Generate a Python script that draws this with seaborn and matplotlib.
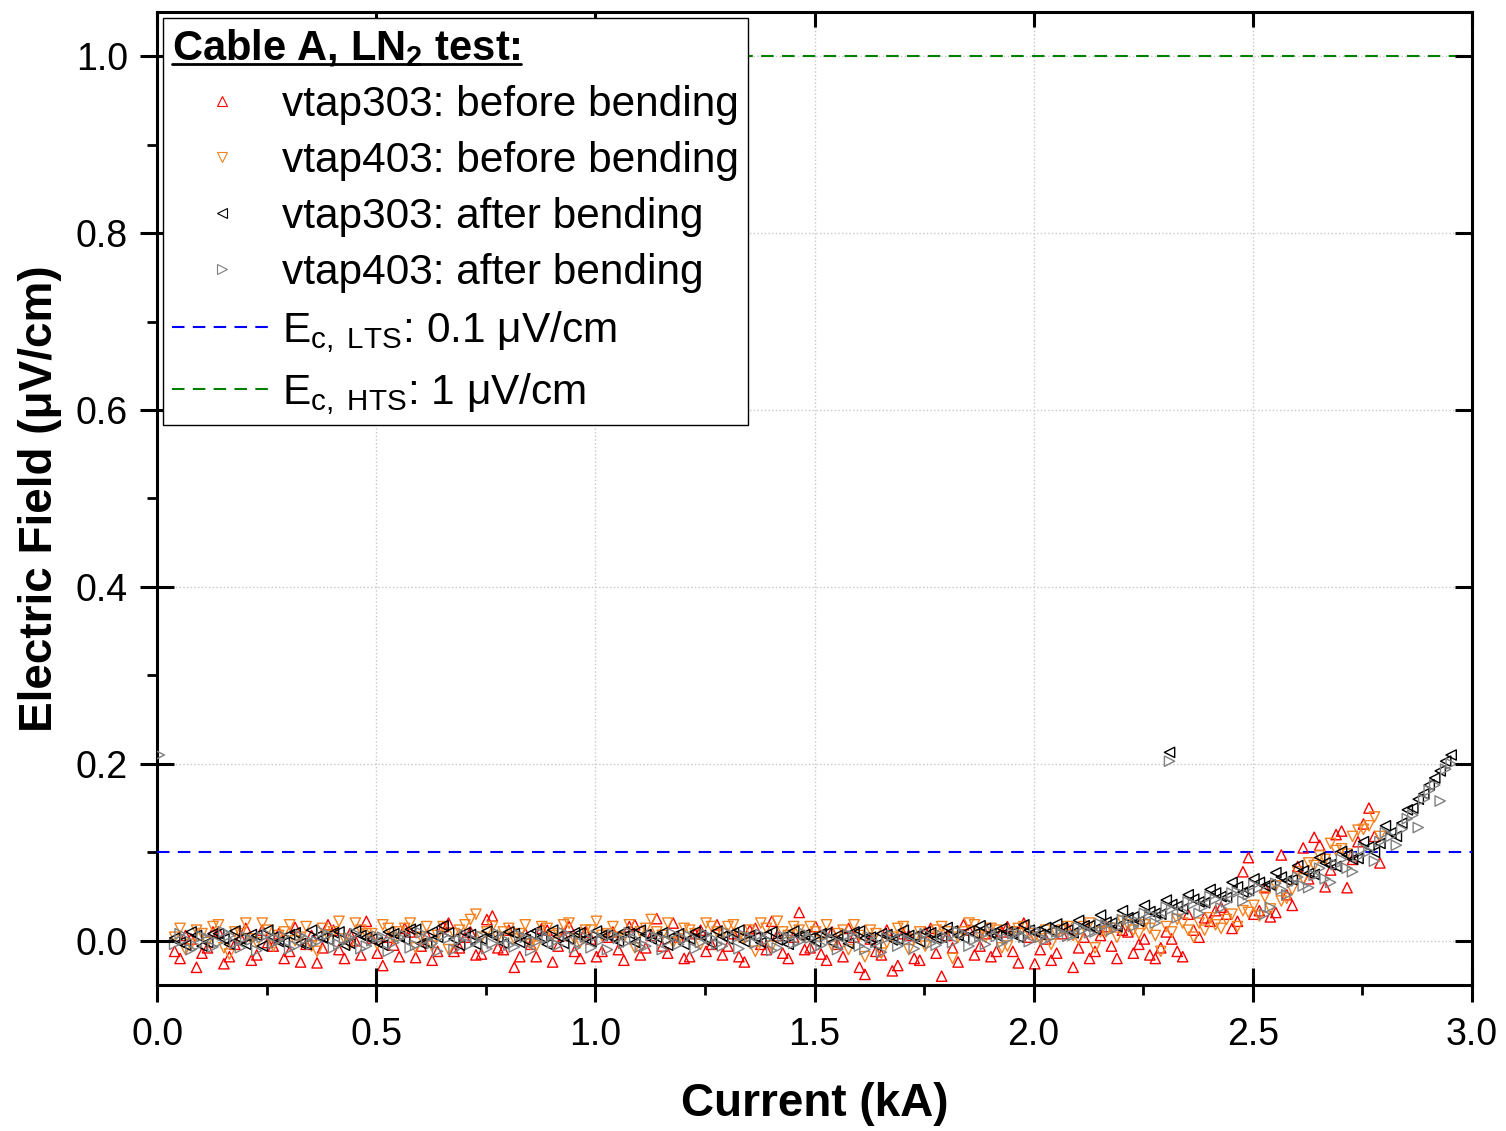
import matplotlib
matplotlib.use("Agg")
import matplotlib.pyplot as plt
import seaborn as sns
from matplotlib.lines import Line2D
from matplotlib.ticker import MultipleLocator, NullLocator, FormatStrFormatter

sns.set_theme(style="white")
plt.rcParams["font.family"] = ["Liberation Sans", "DejaVu Sans"]
plt.rcParams["mathtext.fontset"] = "custom"
plt.rcParams["mathtext.rm"] = "Liberation Sans"
plt.rcParams["mathtext.it"] = "Liberation Sans:italic"
plt.rcParams["mathtext.bf"] = "Liberation Sans:bold"
for k in ["text.color", "axes.labelcolor", "xtick.color", "ytick.color", "axes.edgecolor"]:
    plt.rcParams[k] = "black"

# %% data
# current (kA): two interleaved sampling grids
current = [
    0.040, 0.065, 0.090, 0.115, 0.140, 0.165, 0.190, 0.215, 0.240, 0.265,
    0.290, 0.315, 0.340, 0.365, 0.390, 0.415, 0.440, 0.465, 0.490, 0.515,
    0.540, 0.565, 0.590, 0.615, 0.640, 0.665, 0.690, 0.715, 0.740, 0.765,
    0.790, 0.815, 0.840, 0.865, 0.890, 0.915, 0.940, 0.965, 0.990, 1.015,
    1.040, 1.065, 1.090, 1.115, 1.140, 1.165, 1.190, 1.215, 1.240, 1.265,
    1.290, 1.315, 1.340, 1.365, 1.390, 1.415, 1.440, 1.465, 1.490, 1.515,
    1.540, 1.565, 1.590, 1.615, 1.640, 1.665, 1.690, 1.715, 1.740, 1.765,
    1.790, 1.815, 1.840, 1.865, 1.890, 1.915, 1.940, 1.965, 1.990, 2.015,
    2.040, 2.065, 2.090, 2.115, 2.140, 2.165, 2.190, 2.215, 2.240, 2.265,
    2.290, 2.315, 2.340, 2.365, 2.390, 2.415, 2.440, 2.465, 2.490, 2.515,
    2.540, 2.565, 2.590, 2.615, 2.640, 2.665, 2.690, 2.715, 2.740, 2.765,
    2.790, 2.815, 2.840, 2.865, 2.890, 2.915, 2.940,
]
current_mid = [
    0.0525, 0.0775, 0.1025, 0.1275, 0.1525, 0.1775, 0.2025, 0.2275, 0.2525, 0.2775,
    0.3025, 0.3275, 0.3525, 0.3775, 0.4025, 0.4275, 0.4525, 0.4775, 0.5025, 0.5275,
    0.5525, 0.5775, 0.6025, 0.6275, 0.6525, 0.6775, 0.7025, 0.7275, 0.7525, 0.7775,
    0.8025, 0.8275, 0.8525, 0.8775, 0.9025, 0.9275, 0.9525, 0.9775, 1.0025, 1.0275,
    1.0525, 1.0775, 1.1025, 1.1275, 1.1525, 1.1775, 1.2025, 1.2275, 1.2525, 1.2775,
    1.3025, 1.3275, 1.3525, 1.3775, 1.4025, 1.4275, 1.4525, 1.4775, 1.5025, 1.5275,
    1.5525, 1.5775, 1.6025, 1.6275, 1.6525, 1.6775, 1.7025, 1.7275, 1.7525, 1.7775,
    1.8025, 1.8275, 1.8525, 1.8775, 1.9025, 1.9275, 1.9525, 1.9775, 2.0025, 2.0275,
    2.0525, 2.0775, 2.1025, 2.1275, 2.1525, 2.1775, 2.2025, 2.2275, 2.2525, 2.2775,
    2.3025, 2.3275, 2.3525, 2.3775, 2.4025, 2.4275, 2.4525, 2.4775, 2.5025, 2.5275,
    2.5525, 2.5775, 2.6025, 2.6275, 2.6525, 2.6775, 2.7025, 2.7275, 2.7525, 2.7775,
    2.8025, 2.8275, 2.8525, 2.8775, 2.9025, 2.9275, 2.9525,
]

# electric field (uV/cm) on the first grid
vtap303_before = [
    -0.012, 0.006, -0.030, -0.008, 0.010, -0.018, 0.004, -0.022, 0.012, -0.006,
    -0.020, 0.015, -0.004, -0.025, 0.018, -0.010, 0.008, -0.016, 0.003, -0.028,
    -0.005, 0.014, -0.019, 0.006, -0.012, 0.020, -0.008, 0.010, -0.015, 0.028,
    -0.010, -0.030, 0.008, -0.018, 0.012, -0.006, 0.016, -0.020, 0.002, -0.012,
    0.010, -0.022, 0.018, -0.008, 0.025, -0.014, 0.004, -0.018, 0.012, -0.004,
    -0.016, 0.008, -0.024, 0.014, -0.010, 0.006, -0.020, 0.032, -0.008, -0.015,
    0.010, -0.018, 0.004, -0.038, -0.012, 0.012, -0.028, 0.006, -0.022, 0.014,
    -0.040, -0.008, 0.018, -0.016, 0.008, -0.012, 0.016, -0.025, 0.004, -0.010,
    -0.022, 0.008, -0.030, 0.004, -0.012, 0.016, -0.020, 0.010, -0.004, -0.016,
    -0.008, 0.002, -0.018, 0.012, 0.026, 0.034, 0.030, 0.022, 0.094, 0.034,
    0.027, 0.097, 0.040, 0.105, 0.117, 0.061, 0.120, 0.060, 0.112, 0.150,
    0.088,
]
vtap403_before = [
    0.004, -0.010, 0.012, -0.002, 0.018, -0.015, 0.008, 0.002, 0.020, -0.006,
    0.010, 0.000, 0.016, -0.012, 0.006, 0.022, -0.004, 0.012, 0.008, 0.018,
    0.002, 0.014, -0.008, 0.016, 0.006, -0.010, 0.012, 0.024, 0.004, 0.016,
    0.010, 0.002, 0.018, -0.006, 0.014, 0.008, 0.020, -0.002, 0.012, 0.006,
    0.016, 0.004, -0.008, 0.014, 0.010, 0.020, 0.002, 0.012, -0.004, 0.016,
    0.008, 0.018, 0.002, -0.012, 0.014, 0.022, 0.006, 0.012, 0.016, 0.004,
    -0.006, 0.012, 0.018, -0.018, 0.008, -0.002, 0.014, -0.010, 0.010, 0.004,
    0.016, -0.020, 0.010, 0.018, 0.004, 0.012, -0.006, 0.014, 0.008, 0.002,
    -0.004, 0.012, 0.006, 0.016, -0.008, 0.010, 0.004, 0.018, 0.008, 0.014,
    -0.012, 0.010, 0.020, 0.004, 0.012, 0.018, 0.024, 0.016, 0.032, 0.028,
    0.036, 0.045, 0.058, 0.070, 0.085, 0.092, 0.102, 0.098, 0.125, 0.130,
    0.118,
]
vtap303_after = [
    0.003, -0.005, 0.006, -0.002, 0.008, -0.004, 0.002, 0.007, -0.006, 0.004,
    -0.002, 0.009, -0.004, 0.005, 0.001, 0.010, -0.003, 0.006, 0.002, -0.005,
    0.008, 0.001, 0.013, -0.002, 0.004, 0.009, -0.005, 0.007, 0.002, 0.006,
    -0.003, 0.008, 0.001, 0.011, -0.004, 0.005, 0.002, 0.009, -0.001, 0.006,
    0.003, 0.010, -0.002, 0.007, 0.004, -0.005, 0.008, 0.002, 0.006, -0.003,
    0.005, 0.009, -0.001, 0.004, 0.007, 0.001, -0.004, 0.006, 0.003, 0.008,
    -0.002, 0.005, 0.010, 0.003, -0.005, 0.007, 0.002, 0.006, -0.001, 0.009,
    0.004, 0.011, 0.003, 0.008, 0.014, 0.006, 0.010, 0.004, 0.012, 0.007,
    0.011, 0.015, 0.009, 0.017, 0.013, 0.021, 0.016, 0.026, 0.022, 0.033,
    0.030, 0.041, 0.036, 0.047, 0.043, 0.054, 0.049, 0.061, 0.057, 0.066,
    0.063, 0.072, 0.069, 0.079, 0.075, 0.088, 0.084, 0.097, 0.093, 0.106,
    0.110, 0.122, 0.133, 0.150, 0.166, 0.184, 0.203,
]
vtap403_after = [
    -0.004, 0.002, -0.006, 0.003, -0.002, 0.006, -0.008, 0.001, 0.004, -0.003,
    0.005, -0.006, 0.002, -0.001, 0.007, -0.004, 0.003, -0.009, 0.000, 0.004,
    -0.002, 0.006, -0.005, 0.002, -0.012, 0.003, 0.001, -0.004, 0.005, -0.003,
    0.002, -0.007, 0.004, -0.001, 0.003, -0.005, 0.006, -0.002, -0.008, 0.001,
    0.007, -0.003, 0.002, -0.006, 0.004, 0.000, -0.004, 0.005, -0.002, 0.003,
    -0.006, 0.002, 0.006, -0.003, 0.001, -0.008, 0.004, -0.001, 0.003, -0.005,
    0.002, -0.004, 0.005, -0.010, -0.002, 0.003, -0.006, 0.001, 0.004, -0.003,
    0.006, -0.002, 0.008, 0.001, -0.004, 0.005, 0.002, 0.009, -0.001, 0.004,
    0.004, 0.009, 0.006, 0.013, 0.010, 0.018, 0.015, 0.024, 0.021, 0.030,
    0.027, 0.036, 0.033, 0.042, 0.039, 0.047, 0.044, 0.055, 0.052, 0.060,
    0.038, 0.058, 0.066, 0.062, 0.074, 0.070, 0.086, 0.082, 0.095, 0.101,
    0.112, 0.118, 0.126, 0.142, 0.160, 0.176, 0.194,
]

# electric field (uV/cm) on the second grid
vtap303_before_mid = [
    -0.020, 0.002, -0.014, 0.010, -0.026, -0.004, 0.014, -0.016, -0.002, 0.008,
    -0.012, -0.024, 0.006, -0.008, 0.012, -0.020, 0.000, 0.022, -0.014, 0.004,
    -0.018, 0.010, -0.006, -0.022, 0.016, -0.012, 0.004, -0.016, 0.024, -0.008,
    0.012, -0.018, -0.004, 0.014, -0.024, 0.006, -0.012, 0.010, -0.018, 0.004,
    -0.010, 0.016, -0.016, 0.006, -0.006, 0.020, -0.020, 0.008, -0.012, 0.018,
    -0.006, -0.018, 0.012, -0.004, 0.022, -0.014, 0.004, -0.010, 0.016, -0.022,
    -0.004, 0.014, -0.030, 0.002, -0.016, -0.034, 0.008, -0.020, 0.010, -0.014,
    0.006, -0.024, 0.012, -0.006, -0.018, 0.010, -0.012, 0.020, -0.026, 0.002,
    -0.014, 0.014, -0.008, -0.020, 0.006, -0.006, 0.012, -0.014, 0.002, -0.020,
    0.010, -0.012, 0.030, 0.004, 0.022, 0.038, 0.014, 0.078, 0.030, 0.060,
    0.032, 0.052, 0.084, 0.070, 0.108, 0.080, 0.124, 0.092, 0.132, 0.118,
]
vtap403_before_mid = [
    0.014, -0.004, 0.008, 0.016, -0.008, 0.010, 0.020, -0.002, 0.012, 0.006,
    0.018, 0.004, -0.006, 0.014, 0.010, 0.002, 0.020, 0.008, -0.004, 0.014,
    0.010, 0.020, 0.004, -0.006, 0.016, 0.008, 0.018, 0.030, 0.010, 0.004,
    0.014, 0.008, -0.004, 0.016, 0.006, 0.018, 0.002, 0.012, 0.022, 0.008,
    0.004, 0.018, 0.010, 0.024, 0.006, -0.002, 0.014, 0.008, 0.020, 0.010,
    0.016, 0.004, 0.012, 0.020, -0.006, 0.010, 0.016, 0.004, 0.010, 0.018,
    0.008, -0.010, 0.006, 0.012, -0.014, 0.004, 0.016, 0.002, -0.006, 0.012,
    0.010, 0.004, 0.020, 0.006, 0.014, -0.008, 0.010, 0.016, 0.004, 0.012,
    0.008, 0.016, 0.002, 0.020, 0.010, 0.014, 0.022, 0.012, 0.018, 0.006,
    0.016, 0.024, 0.012, 0.020, 0.026, 0.014, 0.030, 0.034, 0.040, 0.050,
    0.062, 0.048, 0.078, 0.088, 0.096, 0.110, 0.104, 0.118, 0.126, 0.140,
]
vtap303_after_mid = [
    -0.002, 0.010, -0.006, 0.008, 0.002, 0.011, -0.004, 0.006, 0.012, -0.001,
    0.007, -0.003, 0.012, 0.003, 0.009, -0.005, 0.011, 0.004, -0.002, 0.010,
    0.005, 0.013, -0.003, 0.010, 0.017, 0.002, 0.009, -0.004, 0.011, 0.003,
    0.010, -0.002, 0.008, 0.004, 0.012, -0.003, 0.009, 0.002, 0.011, 0.006,
    -0.001, 0.008, 0.012, 0.002, 0.009, 0.005, -0.004, 0.010, 0.003, 0.011,
    0.002, 0.012, 0.006, -0.002, 0.010, 0.004, 0.011, 0.007, -0.001, 0.009,
    0.006, -0.003, 0.011, 0.004, 0.008, 0.001, 0.012, 0.005, 0.010, 0.003,
    0.015, 0.006, 0.011, 0.017, 0.008, 0.014, 0.009, 0.018, 0.010, 0.015,
    0.019, 0.012, 0.023, 0.017, 0.029, 0.020, 0.034, 0.027, 0.040, 0.031,
    0.046, 0.039, 0.052, 0.044, 0.058, 0.050, 0.066, 0.055, 0.070, 0.062,
    0.077, 0.068, 0.085, 0.076, 0.094, 0.086, 0.101, 0.092, 0.112, 0.100,
    0.130, 0.118, 0.148, 0.160, 0.176, 0.192, 0.210,
]
vtap403_after_mid = [
    0.008, -0.010, 0.005, -0.007, 0.010, -0.003, 0.004, -0.011, 0.007, 0.001,
    -0.009, 0.006, -0.004, 0.010, -0.008, 0.002, 0.008, -0.006, 0.005, -0.012,
    0.004, -0.008, 0.009, -0.003, 0.006, -0.010, 0.007, 0.000, -0.009, 0.008,
    -0.005, 0.006, -0.011, 0.008, -0.002, 0.009, -0.008, 0.004, 0.006, -0.010,
    0.003, 0.009, -0.007, 0.006, -0.010, 0.008, 0.002, -0.009, 0.007, -0.004,
    0.009, -0.009, 0.004, 0.007, -0.011, 0.005, -0.003, 0.008, -0.008, 0.006,
    -0.010, 0.007, -0.006, 0.004, -0.013, 0.006, 0.002, -0.009, 0.008, -0.005,
    0.003, 0.010, -0.006, 0.005, 0.011, -0.002, 0.008, 0.004, 0.012, 0.001,
    0.010, 0.005, 0.015, 0.009, 0.019, 0.012, 0.024, 0.016, 0.031, 0.020,
    0.038, 0.026, 0.044, 0.031, 0.050, 0.037, 0.054, 0.045, 0.063, 0.030,
    0.065, 0.052, 0.072, 0.060, 0.082, 0.066, 0.092, 0.078, 0.104, 0.090,
    0.122, 0.108, 0.138, 0.128, 0.170, 0.158, 0.200,
]

# stray points away from the main band
vtap303_after_extra_x = [2.31]
vtap303_after_extra_y = [0.213]
vtap403_after_extra_x = [0.005, 2.31]
vtap403_after_extra_y = [0.210, 0.203]

# critical field criteria
ec_lts = 0.1
ec_hts = 1.0

# %% figure
fig = plt.figure(figsize=(15.06, 11.31), dpi=100)
ax = fig.add_axes([0.1043, 0.1291, 0.8731, 0.8603])

series = [
    ("vtap303: before bending",
     current[:len(vtap303_before)] + current_mid[:len(vtap303_before_mid)],
     vtap303_before + vtap303_before_mid, "^", "#ff0000"),
    ("vtap403: before bending",
     current[:len(vtap403_before)] + current_mid[:len(vtap403_before_mid)],
     vtap403_before + vtap403_before_mid, "v", "#f5821f"),
    ("vtap303: after bending", current + current_mid + vtap303_after_extra_x,
     vtap303_after + vtap303_after_mid + vtap303_after_extra_y, "<", "#000000"),
    ("vtap403: after bending", current + current_mid + vtap403_after_extra_x,
     vtap403_after + vtap403_after_mid + vtap403_after_extra_y, ">", "#808080"),
]

for label, xs, ys, mk, col in series:
    sns.scatterplot(x=xs, y=ys, marker=mk, s=55, facecolor="none", edgecolor=col,
                    linewidth=1.0, ax=ax, legend=False, zorder=3)

dash = (0, (6, 4))
ax.axhline(ec_lts, color="#0000ff", ls=dash, lw=1.5, zorder=2.7)
ax.axhline(ec_hts, color="#008000", ls=dash, lw=1.5, zorder=2.7)

ax.set_xlim(0, 3.0)
ax.set_ylim(-0.05, 1.05)
ax.xaxis.set_major_locator(MultipleLocator(0.5))
ax.xaxis.set_minor_locator(MultipleLocator(0.25))
ax.yaxis.set_major_locator(MultipleLocator(0.2))
ax.yaxis.set_minor_locator(MultipleLocator(0.1))
ax.xaxis.set_major_formatter(FormatStrFormatter("%.1f"))
ax.yaxis.set_major_formatter(FormatStrFormatter("%.1f"))

ax.grid(True, which="major", linestyle=":", color="#c8c8c8", linewidth=1)
# main axis keeps the labels and the minor ticks; the major marks are drawn below
ax.tick_params(axis="x", which="major", length=0, labelsize=27, pad=23,
               bottom=True, top=False)
ax.tick_params(axis="y", which="major", length=0, labelsize=27, pad=21,
               left=True, right=False)
ax.tick_params(which="minor", direction="out", length=7, width=2,
               bottom=True, left=True, top=False, right=False)
for sp in ax.spines.values():
    sp.set_linewidth(2.2)

# major tick marks crossing the bottom and left spines (taken from the locators)
x0, x1 = ax.get_xlim()
y0, y1 = ax.get_ylim()
half_x = 17 / (0.8603 * 1131)   # half tick length, axes fraction (vertical)
half_y = 17 / (0.8731 * 1506)   # half tick length, axes fraction (horizontal)
for v in ax.xaxis.get_majorticklocs():
    if x0 - 1e-9 <= v <= x1 + 1e-9:
        ax.add_line(Line2D([v, v], [-half_x, half_x], transform=ax.get_xaxis_transform(),
                           color="black", lw=2.2, clip_on=False, zorder=6,
                           solid_capstyle="butt"))
for v in ax.yaxis.get_majorticklocs():
    if y0 - 1e-9 <= v <= y1 + 1e-9:
        ax.add_line(Line2D([-half_y, half_y], [v, v], transform=ax.get_yaxis_transform(),
                           color="black", lw=2.2, clip_on=False, zorder=6,
                           solid_capstyle="butt"))
ax.set_xlim(x0, x1)
ax.set_ylim(y0, y1)


def edge_ticks(orient, pos, side, step, direction, length):
    # a zero-size secondary axis at `pos` that only carries major tick marks
    if orient == "x":
        sec = ax.secondary_xaxis(pos)
        axis = sec.xaxis
        sides = ("bottom", "top")
    else:
        sec = ax.secondary_yaxis(pos)
        axis = sec.yaxis
        sides = ("left", "right")
    axis.set_major_locator(MultipleLocator(step))
    axis.set_minor_locator(NullLocator())
    kw = {s: (s == side) for s in sides}
    kw.update({"label" + s: False for s in sides})
    sec.tick_params(which="major", direction=direction, length=length, width=2.2, **kw)
    for s in sec.spines.values():
        s.set_visible(False)
    sec.set_zorder(4)
    return sec


# top and right edges: inward ticks only
edge_ticks("x", 1.0, "top", 0.5, "in", 11)
edge_ticks("y", 1.0, "right", 0.2, "in", 12)

ax.set_xlabel("Current (kA)", fontsize=33, fontweight="bold", labelpad=21)
ax.set_ylabel("Electric Field (μV/cm)", fontsize=33, fontweight="bold", labelpad=10)

# legend
handles = [Line2D([], [], ls="none", marker=mk, ms=6.5, mfc="none", mec=col, mew=0.8)
           for _, _, _, mk, col in series]
handles += [Line2D([], [], color="#0000ff", ls=dash, lw=1.5),
            Line2D([], [], color="#008000", ls=dash, lw=1.5)]
labels = [s[0] for s in series]
labels += [r"E$_\mathrm{c,\ LTS}$: 0.1 μV/cm", r"E$_\mathrm{c,\ HTS}$: 1 μV/cm"]
leg = ax.legend(handles, labels, title=r"Cable A, LN$_\mathbf{2}$ test:",
                title_fontproperties={"weight": "bold", "size": 30},
                loc="upper left", fontsize=30.5, frameon=True, fancybox=False,
                edgecolor="black", framealpha=1, borderaxespad=0.15, borderpad=0.2,
                labelspacing=0.38, handlelength=2.35, handletextpad=0.25,
                alignment="left")
leg.get_frame().set_linewidth(1.0)
leg.set_zorder(7)

# underline the legend title
fig.canvas.draw()
bb = leg.get_title().get_window_extent()
fig.add_artist(Line2D([bb.x0, bb.x1], [bb.y0 + 5, bb.y0 + 5], color="black", lw=2,
                      transform=None, zorder=10))

fig.savefig("out.png", dpi=100, facecolor="white")
